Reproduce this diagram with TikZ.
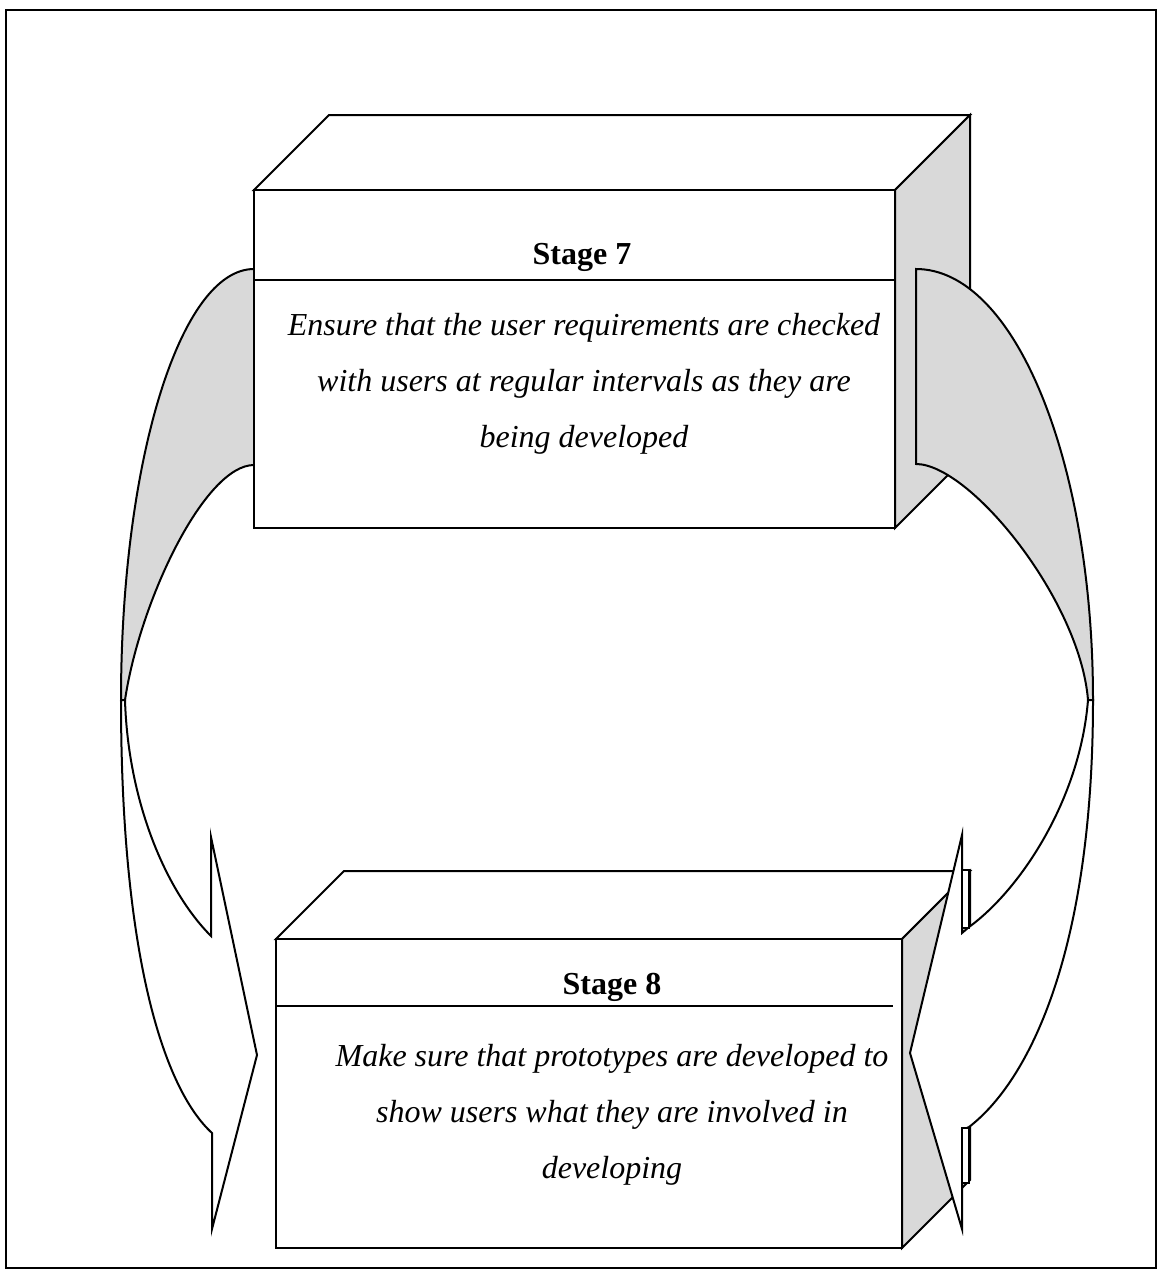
\documentclass[tikz,border=0pt]{standalone}
\usepackage{fontspec}
\setmainfont{Liberation Serif}

\begin{document}
\begin{tikzpicture}[x=0.5pt, y=-0.5pt, line join=miter]
\tikzstyle{faceStyle}=[draw, fill=white, line width=1pt]
\tikzstyle{sideStyle}=[draw, fill=gray!30, line width=1pt]
\tikzstyle{tStyle}=[inner sep=0pt, align=center, font=\fontsize{16}{28}\selectfont]

\useasboundingbox (0,0) rectangle (1160,1275);
\fill[white] (0,0) rectangle (1160,1275);
\draw[line width=1pt] (6,10) rectangle (1156,1268);

% left arrow, behind stage 7
\draw[sideStyle] (254,269) .. controls (180,269) and (121,462) .. (121,700)
  -- (125,700) .. controls (140,600) and (205,465) .. (254,465) -- cycle;
\draw[faceStyle] (121,700) .. controls (121,960) and (165,1090) .. (212,1133)
  -- (212,1229) -- (257,1055) -- (211,837) -- (211,936)
  .. controls (165,890) and (128,800) .. (125,700) -- cycle;

% stage 7 box
\draw[faceStyle] (254,190) -- (329,115) -- (970,115) -- (895,190) -- cycle;
\draw[sideStyle] (895,190) -- (970,115) -- (970,453) -- (895,528) -- cycle;
\draw[faceStyle] (254,190) rectangle (895,528);
\draw[line width=1pt] (254,280) -- (895,280);

% stage 8 box
\draw[faceStyle] (276,939) -- (344,871) -- (970,871) -- (902,939) -- cycle;
\draw[sideStyle] (902,939) -- (970,871) -- (970,1180) -- (902,1248) -- cycle;
\draw[faceStyle] (276,939) rectangle (902,1248);
\draw[line width=0.7pt] (276,1006) -- (893,1006);

% right arrow, in front of both boxes
\draw[sideStyle] (916,269) .. controls (1015,269) and (1093,462) .. (1093,700)
  -- (1088,700) .. controls (1080,600) and (970,464) .. (916,464) -- cycle;
\draw[faceStyle] (1093,700) .. controls (1093,950) and (1030,1080) .. (969,1127)
  -- (962,1130) -- (962,1229) -- (910,1053) -- (962,835) -- (962,933)
  -- (969,927) .. controls (1020,890) and (1080,800) .. (1088,700) -- cycle;
\foreach \ya/\yb in {870/928, 1128/1183}
  \draw[faceStyle] (962,\ya) rectangle (969,\yb);

% texts
\node[tStyle, anchor=base] (s7title) at (582,264) {\bfseries Stage 7};
\node[tStyle] (s7text) at (584,384) {\itshape Ensure that the user requirements are checked\\
  \itshape with users at regular intervals as they are\\ \itshape being developed};
\node[tStyle, anchor=base] (s8title) at (612,994) {\bfseries Stage 8};
\node[tStyle] (s8text) at (612,1115) {\itshape Make sure that prototypes are developed to\\
  \itshape show users what they are involved in\\ \itshape developing};
\end{tikzpicture}
\end{document}
